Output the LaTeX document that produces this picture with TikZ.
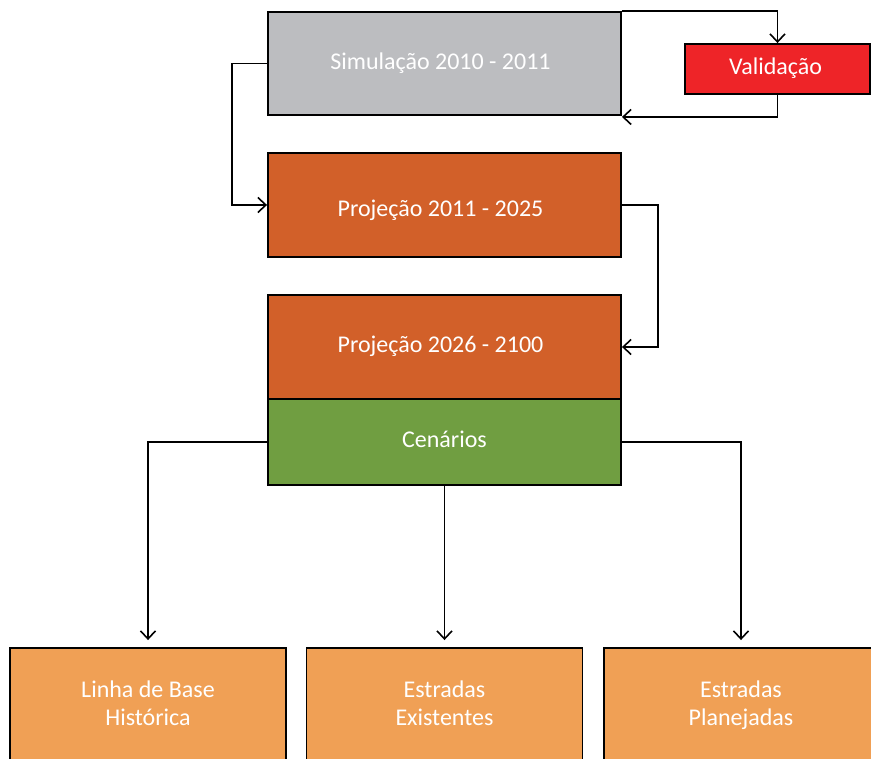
\documentclass[tikz,border=0pt]{standalone}
\usepackage{fontspec}
\setmainfont{Carlito}
\usetikzlibrary{arrows.meta}
\definecolor{simgrey}{HTML}{BCBDC0}
\definecolor{valred}{HTML}{EE2428}
\definecolor{projorange}{HTML}{D26029}
\definecolor{cengreen}{HTML}{709E41}
\definecolor{scenorange}{HTML}{F0A055}
\tikzset{
  box/.style={draw=black, line width=1.9pt, inner sep=0pt, text=white,
    font=\fontsize{24}{28}\selectfont, align=center},
  conn/.style={draw=black, line width=1.7pt,
    -{Straight Barb[length=8pt,width=15pt,line width=1.6pt]}},
}
\begin{document}
\begin{tikzpicture}[x=1pt,y=-1pt]
\useasboundingbox (0,0) rectangle (871,759);
\clip (0,0) rectangle (871,759);
\node[box, fill=simgrey, minimum width=353pt, minimum height=103pt] (sim) at (444.5,63.5) {Simulação 2010 - 2011\strut\hspace*{8pt}};
\node[box, fill=valred, minimum width=185pt, minimum height=50pt] (val) at (777.5,69) {Validação\strut\hspace*{4pt}};
\node[box, fill=projorange, minimum width=353pt, minimum height=104pt, text height=31.6pt, text depth=8.4pt] (p1) at (444.5,205) {Projeção 2011 - 2025\hspace*{8pt}};
\node[box, fill=projorange, minimum width=353pt, minimum height=104pt] (p2) at (444.5,347) {Projeção 2026 - 2100\strut\hspace*{8pt}};
\node[box, fill=cengreen, minimum width=353pt, minimum height=86pt] (cen) at (444.5,442) {Cenários\strut};
\node[box, fill=scenorange, minimum width=276pt, minimum height=115pt] (b1) at (148,705.5) {Linha de Base\strut\\Histórica\strut};
\node[box, fill=scenorange, minimum width=276pt, minimum height=115pt] (b2) at (444.5,705.5) {Estradas\strut\\Existentes\strut};
\node[box, fill=scenorange, minimum width=274pt, minimum height=115pt] (b3) at (741,705.5) {Estradas\strut\\Planejadas\strut};

\draw[conn] (sim.north east) -| (val.north);
\draw[conn] (val.south) |- ([yshift=-1pt]sim.south east);
\draw[conn] (sim.west) -- ++(-35,0) |- (p1.west);
\draw[conn] (p1.east) -- ++(36,0) |- (p2.east);
\draw[conn, shorten >=7pt] (cen.west) -| (b1.north);
\draw[conn, shorten >=7pt] (cen.south) -- (b2.north);
\draw[conn, shorten >=7pt] (cen.east) -| (b3.north);
\end{tikzpicture}
\end{document}
